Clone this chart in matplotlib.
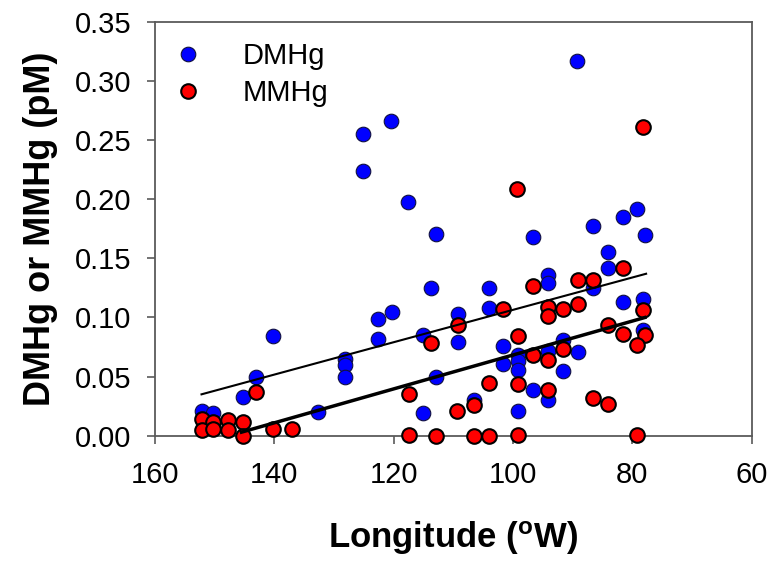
import matplotlib
matplotlib.use("Agg")
import matplotlib.pyplot as plt

# ---------------- data ----------------
dmhg_lon = [89.3, 120.4, 125.1, 125.1, 117.6, 112.9, 96.7, 86.6, 81.6, 79.2,
            77.9, 84.1, 84.1, 94.1, 94.1, 113.7, 104.1, 86.6, 81.6, 78.3,
            104.1, 120.2, 122.7, 109.3, 122.7, 115.1, 109.3, 140.2, 78.3, 91.7,
            101.6, 94.1, 99.1, 99.1, 99.1, 101.6, 89.1, 91.7, 128.2, 128.2,
            128.2, 143.1, 112.9, 145.2, 96.7, 94.1, 106.6, 132.6, 115.1, 99.1,
            152.2, 150.2]
dmhg_val = [0.317, 0.266, 0.255, 0.224, 0.198, 0.171, 0.168, 0.177, 0.185, 0.192,
            0.170, 0.155, 0.142, 0.136, 0.129, 0.125, 0.125, 0.125, 0.113, 0.116,
            0.108, 0.105, 0.099, 0.103, 0.082, 0.085, 0.079, 0.084, 0.089, 0.081,
            0.076, 0.072, 0.068, 0.063, 0.056, 0.061, 0.071, 0.055, 0.065, 0.060,
            0.050, 0.050, 0.050, 0.033, 0.039, 0.030, 0.030, 0.020, 0.019, 0.021,
            0.021, 0.019]

mmhg_lon = [78.3, 99.3, 89.1, 86.6, 81.6, 96.7, 78.3, 91.7, 89.1, 94.1,
            94.1, 101.6, 109.3, 84.1, 81.6, 77.9, 79.3, 91.7, 113.7, 99.1,
            96.6, 94.1, 104.1, 99.1, 94.1, 117.5, 143.1, 86.6, 84.1, 106.6,
            109.4, 152.2, 150.2, 147.7, 145.2, 152.2, 150.2, 147.7, 145.2, 140.2,
            137.1, 117.5, 112.9, 106.6, 104.1, 99.1, 79.3]
mmhg_val = [0.261, 0.209, 0.132, 0.132, 0.142, 0.127, 0.106, 0.107, 0.111, 0.109,
            0.101, 0.107, 0.094, 0.094, 0.086, 0.085, 0.077, 0.073, 0.078, 0.084,
            0.068, 0.064, 0.045, 0.044, 0.039, 0.035, 0.037, 0.032, 0.027, 0.026,
            0.021, 0.014, 0.012, 0.013, 0.012, 0.005, 0.006, 0.005, 0.000, 0.006,
            0.006, 0.001, 0.000, 0.000, 0.000, 0.001, 0.001]

# regression line end points
dmhg_fit_lon = [152.2, 77.7]
dmhg_fit_val = [0.035, 0.137]
mmhg_fit_lon = [145.5, 77.9]
mmhg_fit_val = [0.003, 0.100]

x_ticks = [160, 140, 120, 100, 80, 60]
y_ticks = [0.00, 0.05, 0.10, 0.15, 0.20, 0.25, 0.30, 0.35]

# ---------------- figure ----------------
plt.rcParams['font.family'] = ['Liberation Sans', 'DejaVu Sans']

fig = plt.figure(figsize=(7.71, 5.63), dpi=100)
ax = fig.add_axes([0.201, 0.2261, 0.774, 0.7349])

ax.plot(dmhg_lon, dmhg_val, 'o', ls='none', ms=10.5, mfc='#0000ff',
        mec='#101040', mew=0.8, label='DMHg', clip_on=False, zorder=3)
ax.plot(mmhg_lon, mmhg_val, 'o', ls='none', ms=10.5, mfc='#ff0000',
        mec='black', mew=1.5, label='MMHg', clip_on=False, zorder=4)

ax.plot(dmhg_fit_lon, dmhg_fit_val, color='black', lw=1.5, zorder=5)
ax.plot(mmhg_fit_lon, mmhg_fit_val, color='black', lw=2.5, zorder=5)

ax.set_xlim(160, 60)
ax.set_ylim(0, 0.35)
ax.set_xticks(x_ticks)
ax.set_xticklabels([str(t) for t in x_ticks])
ax.set_yticks(y_ticks)
ax.set_yticklabels([f"{t:.2f}" for t in y_ticks])

for sp in ax.spines.values():
    sp.set_color('#5a5a5a')
    sp.set_linewidth(1.3)

ax.tick_params(axis='both', direction='out', length=6, width=1.2,
               color='#5a5a5a', labelsize=21, labelcolor='black')
ax.tick_params(axis='x', pad=12)
ax.tick_params(axis='y', pad=11)

ax.set_xlabel('Longitude ($\\mathregular{^{o}}$W)', fontsize=25,
              fontweight='bold', labelpad=22)
ax.set_ylabel('DMHg or MMHg (pM)', fontsize=26, fontweight='bold',
              labelpad=12)

leg = ax.legend(loc='upper left', bbox_to_anchor=(-0.025, 1.0145),
                frameon=False, fontsize=21, handlelength=1.5,
                handletextpad=1.1, labelspacing=0.3, borderaxespad=0.5,
                numpoints=1)

fig.savefig('out.png', dpi=100)
